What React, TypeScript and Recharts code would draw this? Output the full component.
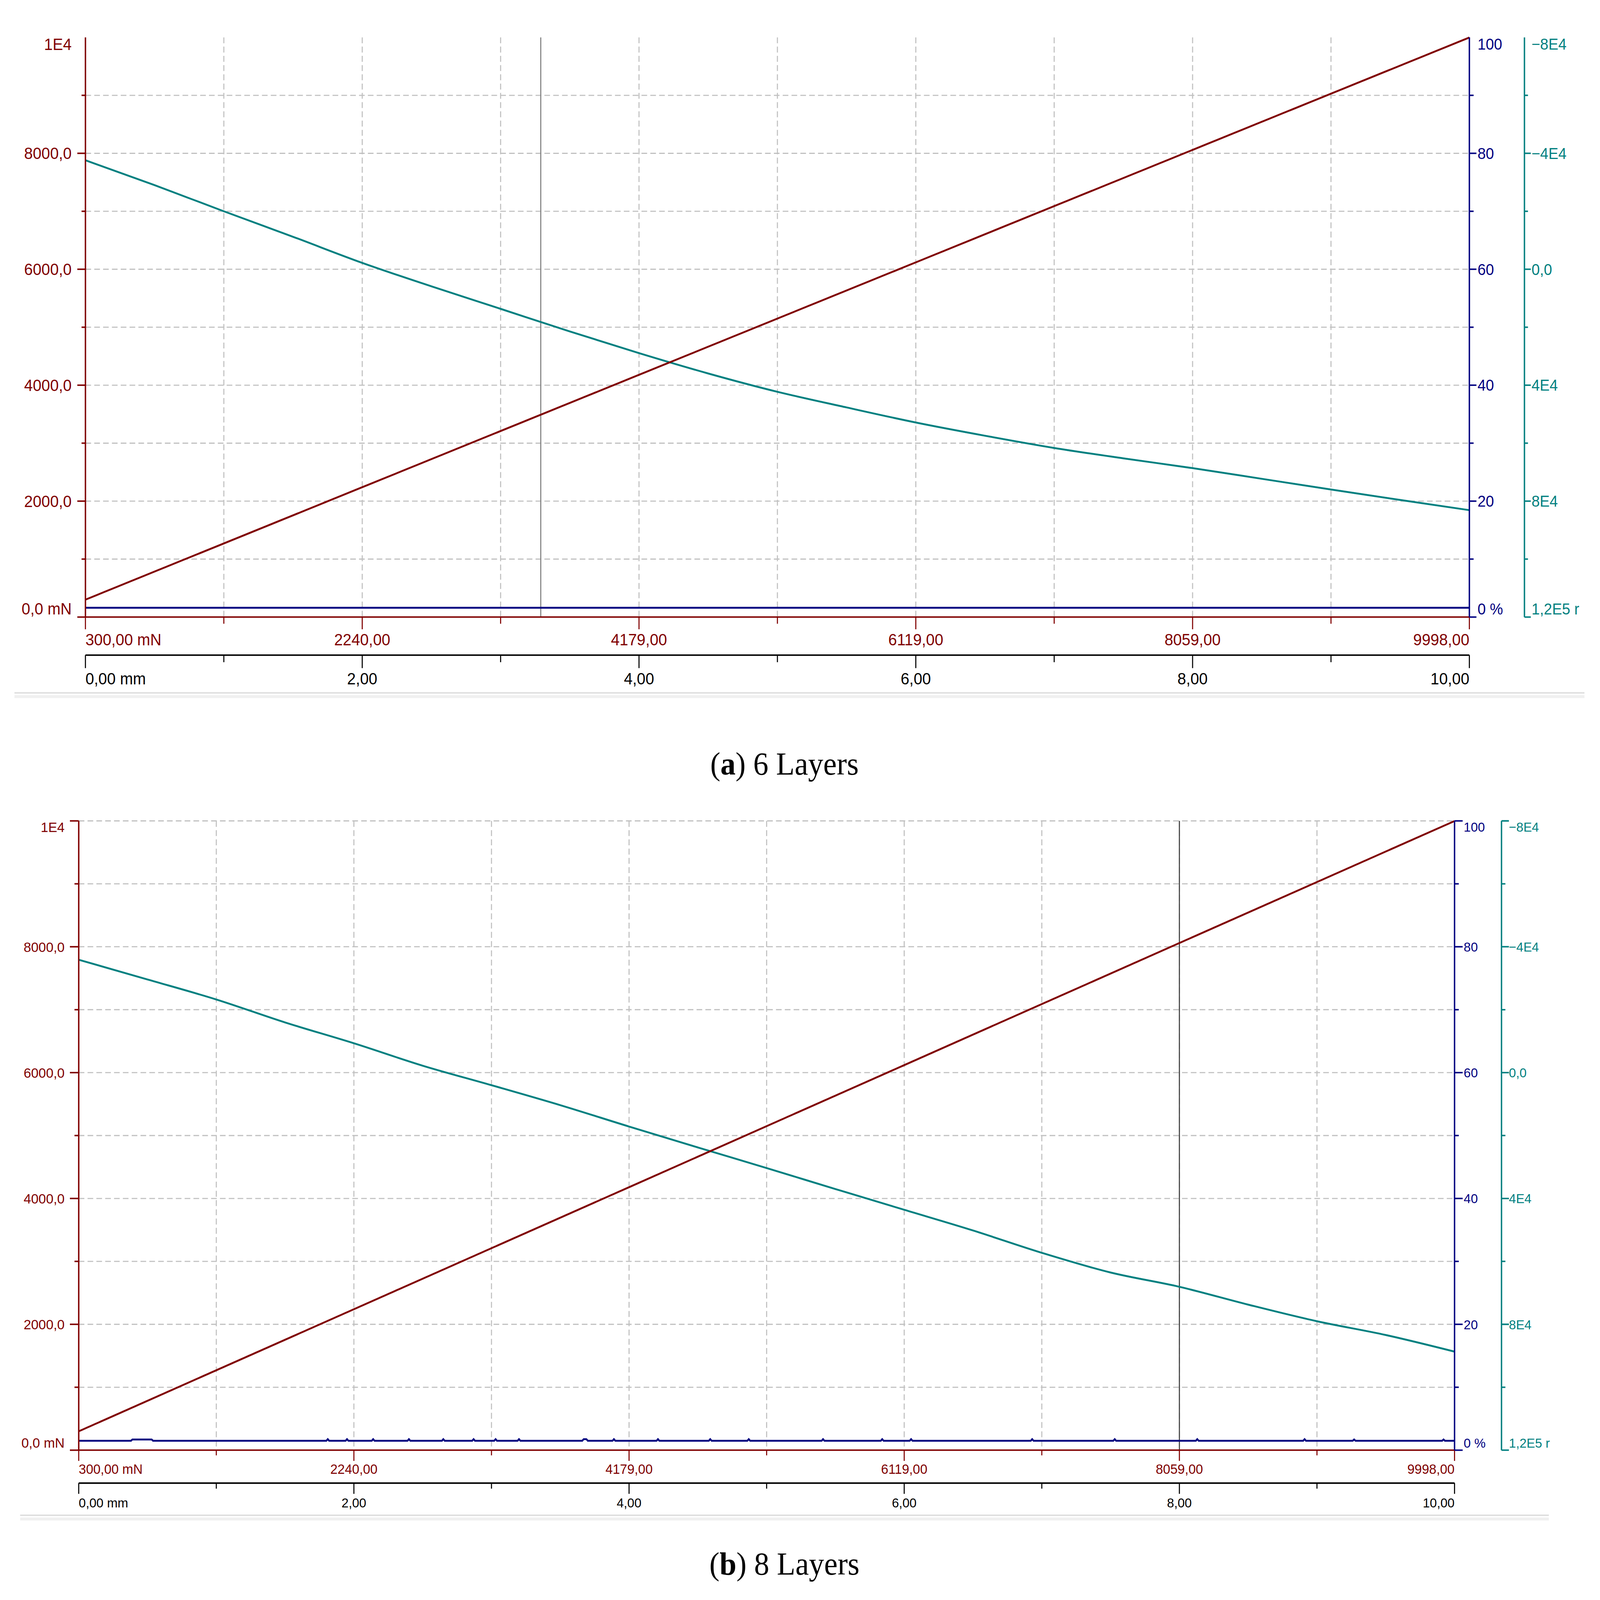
import React from 'react';
import { LineChart, Line, XAxis, YAxis, CartesianGrid, ReferenceLine } from 'recharts';

/* ---------------------------------- data ---------------------------------- */

// travel axis (mm) and its labels
const travelTicks = [0, 1, 2, 3, 4, 5, 6, 7, 8, 9, 10];
const travelLabels = ['0,00 mm', '', '2,00', '', '4,00', '', '6,00', '', '8,00', '', '10,00'];
const loadLabels = ['300,00 mN', '', '2240,00', '', '4179,00', '', '6119,00', '', '8059,00', '', '9998,00'];

// left axis (force, mN)
const forceTicks = [0, 1000, 2000, 3000, 4000, 5000, 6000, 7000, 8000, 9000, 10000];
const forceLabels = ['0,0 mN', '', '2000,0', '', '4000,0', '', '6000,0', '', '8000,0', '', '1E4'];

// first right axis (%)
const pctTicks = [0, 10, 20, 30, 40, 50, 60, 70, 80, 90, 100];
const pctLabels = ['0 %', '', '20', '', '40', '', '60', '', '80', '', '100'];

// second right axis (reversed)
const speedTicks = [-80000, -60000, -40000, -20000, 0, 20000, 40000, 60000, 80000, 100000, 120000];
const speedLabels = ['\u22128E4', '', '\u22124E4', '', '0,0', '', '4E4', '', '8E4', '', '1,2E5 r'];

// red trace: force against travel (same in both panels)
const loadMm = [0, 2, 4, 6, 8, 10];
const loadValues = [300, 2240, 4179, 6119, 8059, 9998];

// teal traces, sampled every 0.5 mm
const tealMm = [0, 0.5, 1, 1.5, 2, 2.5, 3, 3.5, 4, 4.5, 5, 5.5, 6, 6.5, 7, 7.5, 8, 8.5, 9, 9.5, 10];
const tealA = [-37600, -29000, -20000, -11200, -2200, 5900, 13660, 21460, 28940, 35960, 42280,
  47680, 52880, 57440, 61660, 65240, 68620, 72300, 76000, 79600, 83120];
const tealB = [-35880, -29600, -23240, -15940, -9320, -2200, 4000, 10340, 17140, 23780, 30340,
  37000, 43600, 50180, 57280, 63540, 68080, 73740, 79020, 83400, 88680];

// blue traces
const blueAMm = [0, 10];
const blueA = [1.6, 1.6];
const blueBMm = [0, 0.38, 0.39, 0.53, 0.54, 1.8, 1.81, 1.82, 1.94, 1.95, 1.96, 2.13, 2.14, 2.15,
  2.39, 2.4, 2.41, 2.64, 2.65, 2.66, 2.86, 2.87, 2.88, 3.02, 3.03, 3.04, 3.19, 3.2, 3.21,
  3.66, 3.67, 3.69, 3.7, 3.88, 3.89, 3.9, 4.2, 4.21, 4.22, 4.58, 4.59, 4.6, 4.86, 4.87, 4.88,
  5.4, 5.41, 5.42, 5.83, 5.84, 5.85, 6.04, 6.05, 6.06, 6.92, 6.93, 6.94, 7.52, 7.53, 7.54,
  8.12, 8.13, 8.14, 8.9, 8.91, 8.92, 9.26, 9.27, 9.28, 9.91, 9.92, 9.93, 10];
const blueB = [1.5, 1.5, 1.7, 1.7, 1.5, 1.5, 1.75, 1.5, 1.5, 1.75, 1.5, 1.5, 1.75, 1.5,
  1.5, 1.75, 1.5, 1.5, 1.75, 1.5, 1.5, 1.75, 1.5, 1.5, 1.75, 1.5, 1.5, 1.75, 1.5,
  1.5, 1.75, 1.75, 1.5, 1.5, 1.75, 1.5, 1.5, 1.75, 1.5, 1.5, 1.75, 1.5, 1.5, 1.75, 1.5,
  1.5, 1.75, 1.5, 1.5, 1.75, 1.5, 1.5, 1.75, 1.5, 1.5, 1.75, 1.5, 1.5, 1.75, 1.5,
  1.5, 1.75, 1.5, 1.5, 1.75, 1.5, 1.5, 1.7, 1.5, 1.5, 1.7, 1.5, 1.5];

// cursor positions (mm)
const cursorA = 3.29;
const cursorB = 8.0;

/* --------------------------------- styling -------------------------------- */

const PAGE_W = 4532;
const PAGE_H = 4325;
const MAROON = '#800000';
const NAVY = '#000080';
const TEAL = '#008080';
const FONT = "'Liberation Sans', Arial, sans-serif";

type TickCfg = {
  labels: string[];
  ticks: number[];
  side: 'left' | 'right';
  color: string;
  fontSize: number;
  gap: number;
  major: number;
  minor: number;
  topValue: number;
  bottomValue: number;
  topTick: boolean;
};

function YTick(props: any) {
  const { x, y, payload, cfg } = props as { x: number; y: number; payload: any; cfg: TickCfg };
  const i = cfg.ticks.indexOf(payload.value);
  const label = cfg.labels[i] ?? '';
  const dir = cfg.side === 'left' ? -1 : 1;
  const isTop = payload.value === cfg.topValue;
  const isBottom = payload.value === cfg.bottomValue;
  let ty = y + cfg.fontSize * 0.36;
  if (isTop) ty = y + 3 + cfg.fontSize * 0.72;
  if (isBottom) ty = y - 7;
  return (
    <g>
      {(!isTop || cfg.topTick) && (
        <line x1={x} x2={x + dir * (label ? cfg.major : cfg.minor)} y1={y} y2={y}
          stroke={cfg.color} strokeWidth={4} />
      )}
      {label && (
        <text x={x + dir * cfg.gap} y={ty} textAnchor={cfg.side === 'left' ? 'end' : 'start'}
          fill={cfg.color} fontSize={cfg.fontSize} fontFamily={FONT}>{label}</text>
      )}
    </g>
  );
}

type XCfg = { labels: string[]; color: string; fontSize: number; base: number; major: number; minor: number };

function XTick(props: any) {
  const { x, y, payload, cfg } = props as { x: number; y: number; payload: any; cfg: XCfg };
  const i = travelTicks.indexOf(payload.value);
  const label = cfg.labels[i] ?? '';
  const anchor = i === 0 ? 'start' : i === travelTicks.length - 1 ? 'end' : 'middle';
  return (
    <g>
      <line x1={x} x2={x} y1={y} y2={y + (label ? cfg.major : cfg.minor)} stroke={cfg.color} strokeWidth={3} />
      {label && (
        <text x={x} y={y + cfg.base} textAnchor={anchor} fill={cfg.color}
          fontSize={cfg.fontSize} fontFamily={FONT}>{label}</text>
      )}
    </g>
  );
}

type PanelProps = {
  top: number;
  width: number;
  plotLeft: number;
  plotTop: number;
  plotHeight: number;
  pctWidth: number;
  speedWidth: number;
  loadHeight: number;
  travelHeight: number;
  teal: number[];
  blueMm: number[];
  blue: number[];
  cursor: number;
  cursorColor: string;
  gridForce: number[];
  topTick: boolean;
  leftFs: number; leftGap: number; leftMajor: number; leftMinor: number;
  rightFs: number; pctGap: number; pctMajor: number; pctMinor: number;
  speedGap: number; speedMajor: number; speedMinor: number;
  loadFs: number; loadBase: number; loadMajor: number; loadMinor: number;
  travelFs: number; travelBase: number; travelMajor: number; travelMinor: number;
};

function Panel(p: PanelProps) {
  const loadData = loadMm.map((mm, i) => ({ mm, force: loadValues[i] }));
  const tealData = tealMm.map((mm, i) => ({ mm, speed: p.teal[i] }));
  const blueData = p.blueMm.map((mm, i) => ({ mm, pct: p.blue[i] }));
  const height = p.plotTop + p.plotHeight + p.loadHeight + p.travelHeight;

  const leftCfg: TickCfg = {
    labels: forceLabels, ticks: forceTicks, side: 'left', color: MAROON, fontSize: p.leftFs,
    gap: p.leftGap, major: p.leftMajor, minor: p.leftMinor, topValue: 10000, bottomValue: 0, topTick: p.topTick,
  };
  const pctCfg: TickCfg = {
    labels: pctLabels, ticks: pctTicks, side: 'right', color: NAVY, fontSize: p.rightFs,
    gap: p.pctGap, major: p.pctMajor, minor: p.pctMinor, topValue: 100, bottomValue: 0, topTick: p.topTick,
  };
  const speedCfg: TickCfg = {
    labels: speedLabels, ticks: speedTicks, side: 'right', color: TEAL, fontSize: p.rightFs,
    gap: p.speedGap, major: p.speedMajor, minor: p.speedMinor, topValue: -80000, bottomValue: 120000, topTick: p.topTick,
  };
  const loadCfg: XCfg = { labels: loadLabels, color: MAROON, fontSize: p.loadFs, base: p.loadBase, major: p.loadMajor, minor: p.loadMinor };
  const travelCfg: XCfg = { labels: travelLabels, color: '#000', fontSize: p.travelFs, base: p.travelBase, major: p.travelMajor, minor: p.travelMinor };

  return (
    <div style={{ position: 'absolute', left: 0, top: p.top, width: p.width, height, overflow: 'hidden' }}>
      <LineChart width={p.width} height={height} margin={{ top: p.plotTop, right: 0, bottom: 0, left: 0 }}>
        <CartesianGrid xAxisId="travel" yAxisId="force" stroke="#c0c0c0" strokeWidth={3}
          strokeDasharray="16 9" horizontalValues={p.gridForce} verticalValues={travelTicks} />
        <XAxis xAxisId="load" dataKey="mm" type="number" domain={[0, 10]} ticks={travelTicks} interval={0}
          height={p.loadHeight} tickSize={0} tickMargin={0} tickLine={false}
          axisLine={{ stroke: MAROON, strokeWidth: 4 }} tick={(t: any) => <XTick {...t} cfg={loadCfg} />} />
        <XAxis xAxisId="travel" dataKey="mm" type="number" domain={[0, 10]} ticks={travelTicks} interval={0}
          height={p.travelHeight} tickSize={0} tickMargin={0} tickLine={false}
          axisLine={{ stroke: '#000', strokeWidth: 4 }} tick={(t: any) => <XTick {...t} cfg={travelCfg} />} />
        <YAxis yAxisId="force" orientation="left" type="number" domain={[0, 10000]} ticks={forceTicks}
          interval={0} width={p.plotLeft} tickSize={0} tickMargin={0} tickLine={false}
          axisLine={{ stroke: MAROON, strokeWidth: 4 }} tick={(t: any) => <YTick {...t} cfg={leftCfg} />} />
        <YAxis yAxisId="pct" orientation="right" type="number" domain={[0, 100]} ticks={pctTicks}
          interval={0} width={p.pctWidth} tickSize={0} tickMargin={0} tickLine={false}
          axisLine={{ stroke: NAVY, strokeWidth: 4 }} tick={(t: any) => <YTick {...t} cfg={pctCfg} />} />
        <YAxis yAxisId="speed" orientation="right" type="number" domain={[-80000, 120000]} reversed
          ticks={speedTicks} interval={0} width={p.speedWidth} tickSize={0} tickMargin={0} tickLine={false}
          axisLine={{ stroke: TEAL, strokeWidth: 4 }} tick={(t: any) => <YTick {...t} cfg={speedCfg} />} />
        <ReferenceLine xAxisId="travel" yAxisId="force" x={p.cursor} stroke={p.cursorColor} strokeWidth={3} />
        <Line data={tealData} xAxisId="travel" yAxisId="speed" dataKey="speed" type="monotone"
          stroke={TEAL} strokeWidth={5} dot={false} isAnimationActive={false} />
        <Line data={loadData} xAxisId="load" yAxisId="force" dataKey="force" type="linear"
          stroke={MAROON} strokeWidth={5} dot={false} isAnimationActive={false} />
        <Line data={blueData} xAxisId="travel" yAxisId="pct" dataKey="pct" type="linear"
          stroke={NAVY} strokeWidth={5} dot={false} isAnimationActive={false} />
      </LineChart>
    </div>
  );
}

function Separator({ top, left, width }: { top: number; left: number; width: number }) {
  return (
    <>
      <div style={{ position: 'absolute', top, left, width, height: 4, background: '#dedede' }} />
      <div style={{ position: 'absolute', top: top + 8, left, width, height: 8, background: '#f0f0f0' }} />
    </>
  );
}

function Caption({ top, center, letter, text }: { top: number; center: number; letter: string; text: string }) {
  return (
    <div style={{
      position: 'absolute', top, left: center - 1000, width: 2000, textAlign: 'center',
      fontFamily: "'Liberation Serif', 'Times New Roman', serif", fontSize: 86, lineHeight: '86px', color: '#000',
    }}>
      (<b>{letter}</b>) {text}
    </div>
  );
}

export default function App() {
  // the visible viewport can be smaller than the page size in CSS pixels; fit the figure to it
  if (typeof document !== 'undefined') {
    document.documentElement.style.overflow = 'hidden';
    document.body.style.overflow = 'hidden';
  }
  const vw = typeof window !== 'undefined' ? document.documentElement.clientWidth || window.innerWidth : PAGE_W;
  const vh = typeof window !== 'undefined' ? document.documentElement.clientHeight || window.innerHeight : PAGE_H;
  const sx = vw / PAGE_W;
  const sy = vh / PAGE_H;

  return (
    <div style={{
      position: 'absolute', left: 0, top: 0, width: PAGE_W, height: PAGE_H, background: '#fff',
      transform: `scale(${sx}, ${sy})`, transformOrigin: '0 0',
    }}>
      <Panel
        top={0} width={4500} plotLeft={242} plotTop={101} plotHeight={1567}
        pctWidth={156} speedWidth={182} loadHeight={103} travelHeight={100}
        teal={tealA} blueMm={blueAMm} blue={blueA} cursor={cursorA} cursorColor="#808080"
        gridForce={[0, 1000, 2000, 3000, 4000, 5000, 6000, 7000, 8000, 9000]} topTick={false}
        leftFs={44} leftGap={39} leftMajor={23} leftMinor={11}
        rightFs={42} pctGap={23} pctMajor={20} pctMinor={12}
        speedGap={20} speedMajor={18} speedMinor={10}
        loadFs={44} loadBase={76} loadMajor={33} loadMinor={18}
        travelFs={44} travelBase={79} travelMajor={35} travelMinor={19}
      />
      <Separator top={1871} left={41} width={4447} />
      <Caption top={2022} center={2222} letter="a" text="6 Layers" />

      <Panel
        top={2118} width={4420} plotLeft={223} plotTop={101} plotHeight={1701}
        pctWidth={133} speedWidth={167} loadHeight={89} travelHeight={75}
        teal={tealB} blueMm={blueBMm} blue={blueB} cursor={cursorB} cursorColor="#404040"
        gridForce={forceTicks} topTick={true}
        leftFs={38} leftGap={40} leftMajor={25} leftMinor={12}
        rightFs={36} pctGap={26} pctMajor={23} pctMinor={12}
        speedGap={21} speedMajor={21} speedMinor={11}
        loadFs={37} loadBase={64} loadMajor={29} loadMinor={14}
        travelFs={36} travelBase={66} travelMajor={29} travelMinor={15}
      />
      <Separator top={4094} left={57} width={4330} />
      <Caption top={4184} center={2222} letter="b" text="8 Layers" />
    </div>
  );
}
